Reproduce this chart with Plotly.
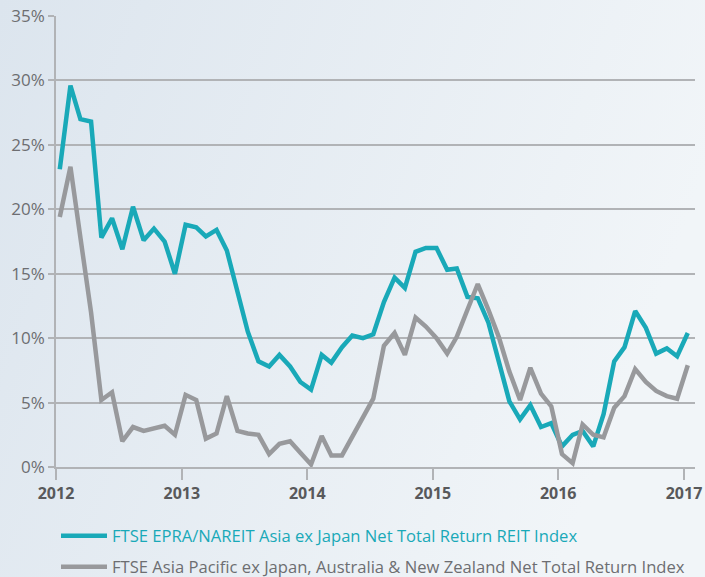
import plotly.graph_objects as go
import urllib.parse

# ---- data ----
months = [f"{2012 + i // 12}-{i % 12 + 1:02d}-12" for i in range(61)]

reit_index = [23.1, 29.6, 27.0, 26.8, 17.8, 19.3, 16.9, 20.2, 17.6, 18.5,
              17.5, 15.0, 18.8, 18.6, 17.9, 18.4, 16.8, 13.7, 10.5, 8.2,
              7.8, 8.7, 7.8, 6.6, 6.0, 8.7, 8.1, 9.3, 10.2, 10.0,
              10.3, 12.8, 14.7, 13.9, 16.7, 17.0, 17.0, 15.3, 15.4, 13.2,
              13.1, 11.2, 8.3, 5.1, 3.7, 4.8, 3.1, 3.4, 1.6, 2.5,
              2.8, 1.6, 4.1, 8.2, 9.3, 12.1, 10.8, 8.8, 9.2, 8.6,
              10.4]

equity_index = [19.4, 23.3, 17.8, 12.0, 5.2, 5.8, 2.0, 3.1, 2.8, 3.0,
                3.2, 2.5, 5.6, 5.2, 2.2, 2.6, 5.5, 2.8, 2.6, 2.5,
                1.0, 1.8, 2.0, 1.1, 0.2, 2.4, 0.9, 0.9, 2.4, 3.9,
                5.3, 9.4, 10.4, 8.7, 11.6, 10.9, 10.0, 8.8, 10.1, 12.2,
                14.2, 12.2, 10.1, 7.4, 5.2, 7.7, 5.7, 4.7, 1.0, 0.3,
                3.3, 2.5, 2.3, 4.6, 5.5, 7.6, 6.6, 5.9, 5.5, 5.3,
                7.9]

series_names = ["FTSE EPRA/NAREIT Asia ex Japan Net Total Return REIT Index",
                "FTSE Asia Pacific ex Japan, Australia & New Zealand Net Total Return Index"]

year_ticks = ["2012-01-01", "2013-01-01", "2014-01-01", "2015-01-01", "2016-01-01", "2017-01-01"]
year_labels = ["2012", "2013", "2014", "2015", "2016", "2017"]
pct_ticks = [0, 5, 10, 15, 20, 25, 30, 35]
pct_labels = [f"{v}%" for v in pct_ticks]

TEAL = "#19a9b8"
GREY = "#98999c"
FONT = "Open Sans"

fig = go.Figure()
fig.add_trace(go.Scatter(x=months, y=reit_index, mode="lines", name=series_names[0],
                         line=dict(color=TEAL, width=4.5), legend="legend"))
fig.add_trace(go.Scatter(x=months, y=equity_index, mode="lines", name=series_names[1],
                         line=dict(color=GREY, width=4.5), legend="legend2"))

# background gradient as an SVG image
grad_svg = ("<svg xmlns='http://www.w3.org/2000/svg' width='705' height='577'>"
            "<defs><linearGradient id='g' x1='0' y1='0' x2='1' y2='0.3'>"
            "<stop offset='0' stop-color='#dce5ee'/><stop offset='1' stop-color='#f1f5f8'/>"
            "</linearGradient></defs><rect width='705' height='577' fill='url(#g)'/></svg>")
grad_uri = "data:image/svg+xml;charset=utf-8," + urllib.parse.quote(grad_svg)

W, H = 705, 577
L, R, T, B = 56, 10, 16, 110
pw, ph = W - L - R, H - T - B

fig.update_layout(
    width=W, height=H,
    margin=dict(l=L, r=R, t=T, b=B, autoexpand=False),
    paper_bgcolor="rgb(231,237,244)",
    plot_bgcolor="rgba(0,0,0,0)",
    images=[dict(source=grad_uri, xref="paper", yref="paper",
                 x=-L / pw, y=1 + T / ph, sizex=W / pw, sizey=H / ph,
                 xanchor="left", yanchor="top", sizing="stretch", layer="below")],
    font=dict(family=FONT, color="#6d6e71"),
    showlegend=True,
    legend=dict(x=0.0, y=1 - 536 / H, xanchor="left", yanchor="middle", yref="container",
                bgcolor="rgba(0,0,0,0)", font=dict(size=16.6, color=TEAL, family=FONT),
                itemwidth=46),
    legend2=dict(x=0.0, y=1 - 567 / H, xanchor="left", yanchor="middle", yref="container",
                 bgcolor="rgba(0,0,0,0)", font=dict(size=16.6, color="#6d6e71", family=FONT),
                 itemwidth=46),
)

fig.update_xaxes(
    type="date", range=["2012-01-01", "2017-02-02"],
    tickvals=year_ticks, ticktext=[f"<b>{t}</b>" for t in year_labels],
    tickfont=dict(size=16, color="#58595b", family=FONT),
    ticks="outside", ticklen=11, tickwidth=1.5, tickcolor="#b1b3b6",
    showline=True, linecolor="#b1b3b6", linewidth=1.5,
    showgrid=False, zeroline=False, ticklabeloverflow="allow",
)
fig.update_yaxes(
    range=[0, 35], tickvals=pct_ticks, ticktext=pct_labels,
    tickfont=dict(size=17, color="#6d6e71", family=FONT),
    ticks="outside", ticklen=6, tickwidth=1.5, tickcolor="#b1b3b6",
    showline=True, linecolor="#b1b3b6", linewidth=1.5,
    showgrid=True, gridcolor="#b1b3b6", gridwidth=1.5, zeroline=False,
)

fig.write_html("out.html", config={"displayModeBar": False},
               post_script="document.body.style.margin='0';")
